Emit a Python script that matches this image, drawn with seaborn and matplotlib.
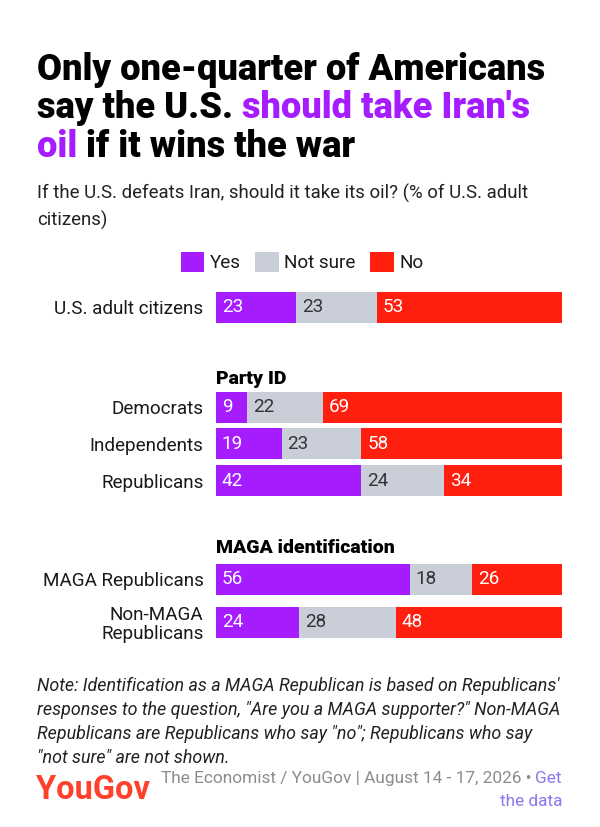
import numpy as np
import pandas as pd
import matplotlib
matplotlib.use("Agg")
import matplotlib.pyplot as plt
from matplotlib.patches import Patch
import seaborn as sns

# --- data ---
categories = ["U.S. adult citizens", "Democrats", "Independents", "Republicans",
              "MAGA Republicans", "Non-MAGA\nRepublicans"]
group_of = ["All", "Party ID", "Party ID", "Party ID",
            "MAGA identification", "MAGA identification"]
yes = [23, 9, 19, 42, 56, 24]
not_sure = [23, 22, 23, 24, 18, 28]
no = [53, 69, 58, 34, 26, 48]
answers = ["Yes", "Not sure", "No"]

PURPLE = "#a51cff"
GREY = "#c9ced8"
RED = "#ff1f0f"
TXT = "#1a1a1a"

sns.set_theme(style="white")
plt.rcParams["font.family"] = ["Roboto", "DejaVu Sans"]

df = pd.DataFrame({"cat": categories, "group": group_of,
                   "Yes": yes, "Not sure": not_sure, "No": no})
tot = df[answers].sum(axis=1)
# bars are drawn as shares of the row total, so every row fills the width
df["c_yes"] = df["Yes"] / tot * 100
df["c_ns"] = (df["Yes"] + df["Not sure"]) / tot * 100
df["c_no"] = (df["Yes"] + df["Not sure"] + df["No"]) / tot * 100

W, H = 600, 827
fig = plt.figure(figsize=(6, 8.27), dpi=100)


def fx(px):
    return px / W


def fy(py):
    return 1 - py / H


LABEL_FS = 13.6

# bar blocks: group name, centre of first row (px), row spacing (px)
blocks = [("All", 307.5, 38.75), ("Party ID", 407, 36.75),
          ("MAGA identification", 579.5, 42.5)]
BAR_PX = 31
LEFT, RIGHT = 216, 562

for grp, c0, step in blocks:
    sub = df[df["group"] == grp].reset_index(drop=True)
    n = len(sub)
    top = c0 - step / 2
    bottom = c0 + step * (n - 1) + step / 2
    ax = fig.add_axes([fx(LEFT), fy(bottom), fx(RIGHT - LEFT), (bottom - top) / H])
    w = BAR_PX / step
    for col, color in [("c_no", RED), ("c_ns", GREY), ("c_yes", PURPLE)]:
        sns.barplot(data=sub, y="cat", x=col, orient="h", color=color,
                    width=w, linewidth=0, saturation=1, ax=ax, order=list(sub["cat"]))
    ax.set_xlim(0, 100)
    ax.set_ylim(n - 0.5, -0.5)
    ax.set_xlabel("")
    ax.set_ylabel("")
    ax.set_xticks([])
    ax.tick_params(axis="y", length=0, pad=9, labelsize=LABEL_FS, labelcolor=TXT)
    for lab in ax.get_yticklabels():
        lab.set_linespacing(1.1)
    sns.despine(ax=ax, left=True, bottom=True)
    # value labels at the start of each segment
    for i, r in sub.iterrows():
        starts = [0, r["c_yes"], r["c_ns"]]
        for s, a, tc in zip(starts, answers, ["white", "#333333", "white"]):
            ax.text(s + 1.7, i, f"{r[a]}", va="center", ha="left",
                    fontsize=LABEL_FS, color=tc)
    if grp != "All":
        fig.text(fx(LEFT), fy(top - 5), grp, fontsize=14, fontweight="black",
                 color="black", va="baseline", ha="left")

# --- title with purple highlight ---
fig.canvas.draw()
rend = fig.canvas.get_renderer()
title_lines = [
    [("Only one-quarter of Americans", "black")],
    [("say the U.S. ", "black"), ("should take Iran's", PURPLE)],
    [("oil", PURPLE), (" if it wins the war", "black")],
]
TITLE_FAM = ["Roboto", "DejaVu Sans"]
probe = fig.text(0, 0, title_lines[0][0][0], fontsize=25, fontweight="black",
                 family=TITLE_FAM)
title_fs = 25 * 508 / probe.get_window_extent(renderer=rend).width
probe.remove()

baselines = [80, 118.5, 157]
for parts, yb in zip(title_lines, baselines):
    x = 37
    for s, c in parts:
        t = fig.text(fx(x), fy(yb), s, fontsize=title_fs, fontweight="black",
                     color=c, va="baseline", ha="left", family=TITLE_FAM)
        bb = t.get_window_extent(renderer=rend)
        x += bb.width

sub_lines = ["If the U.S. defeats Iran, should it take its oil? (% of U.S. adult",
             "citizens)"]
for s, yb in zip(sub_lines, [199, 226]):
    fig.text(fx(37), fy(yb), s, fontsize=13.4, color="#222222",
             va="baseline", ha="left")

# --- legend ---
handles = [Patch(facecolor=c, edgecolor="none", label=a)
           for a, c in zip(answers, [PURPLE, GREY, RED])]
fig.legend(handles=handles, loc="center", bbox_to_anchor=(fx(302), fy(262)),
           ncol=3, frameon=False, fontsize=LABEL_FS, handlelength=1.25,
           handleheight=1.3, handletextpad=0.3, columnspacing=0.75,
           labelcolor=TXT)

# --- note ---
note_lines = ["Note: Identification as a MAGA Republican is based on Republicans'",
              "responses to the question, \"Are you a MAGA supporter?\" Non-MAGA",
              "Republicans are Republicans who say \"no\"; Republicans who say",
              "\"not sure\" are not shown."]
for s, yb in zip(note_lines, [691, 715, 739, 763]):
    fig.text(fx(37), fy(yb), s, fontsize=12.9, style="italic", color="#222222",
             va="baseline", ha="left")

# --- footer ---
fig.text(fx(36), fy(799), "YouGov", fontsize=23.5, fontweight="bold",
         color="#ff412c", va="baseline", ha="left")
t1 = fig.text(fx(562), fy(783), "Get", fontsize=12.4, color="#8a75f0",
              va="baseline", ha="right")
bb = t1.get_window_extent(renderer=rend)
fig.text(fx(562) - bb.width / W, fy(783),
         "The Economist / YouGov | August 14 - 17, 2026 \u2022 ",
         fontsize=12.4, color="#8c8c8c", va="baseline", ha="right")
fig.text(fx(562), fy(806), "the data", fontsize=12.4, color="#8a75f0",
         va="baseline", ha="right")

fig.savefig("out.png", dpi=100, facecolor="white")
